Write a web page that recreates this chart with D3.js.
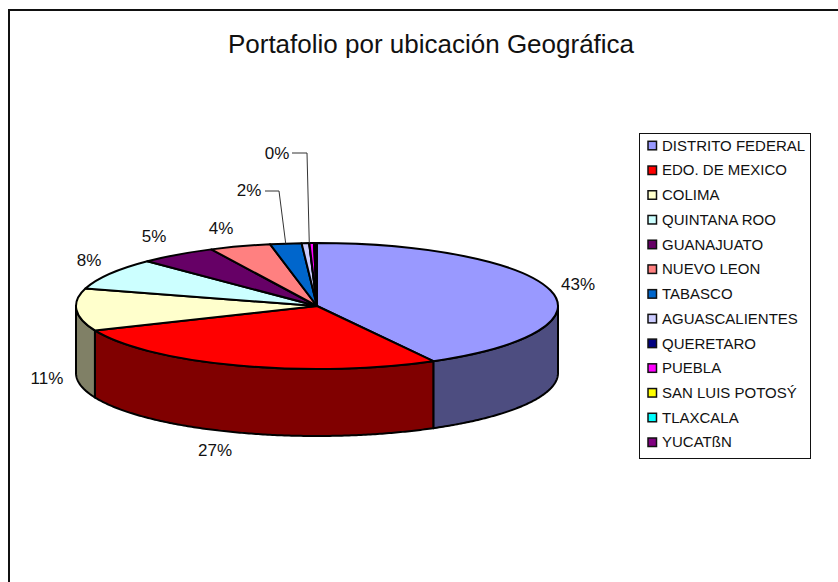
<!DOCTYPE html>
<html>
<head>
<meta charset="utf-8">
<script src="https://cdn.jsdelivr.net/npm/d3@7"></script>
<style>
  html, body { margin: 0; padding: 0; background: #fff; overflow: hidden; }
  svg { display: block; }
  text { font-family: "Liberation Sans", Arial, sans-serif; fill: #111; }
</style>
</head>
<body>
<div id="chart"></div>
<script>
var titleText = "Portafolio por ubicación Geográfica";
var categories = ["DISTRITO FEDERAL", "EDO. DE MEXICO", "COLIMA", "QUINTANA ROO", "GUANAJUATO", "NUEVO LEON", "TABASCO", "AGUASCALIENTES", "QUERETARO", "PUEBLA", "SAN LUIS POTOSÝ", "TLAXCALA", "YUCATßN"];
// slice sizes as measured on the drawn pie, the printed labels are kept apart
var shares = [41.95, 26.65, 10.8, 8.1, 5.2, 4.1, 2.1, 0.5, 0.02, 0.3, 0.05, 0.12, 0.03];
var pctLabels = ["43%", "27%", "11%", "8%", "5%", "4%", "2%", "0%"];
var colors = ["#9999ff", "#ff0000", "#ffffcc", "#ccffff", "#660066", "#ff8080", "#0066cc", "#ccccff", "#000080", "#ff00ff", "#ffff00", "#00ffff", "#800080"];

var width = 838, height = 582;
var cx = 317, cy = 306, rx = 241, ry = 63, depth = 67;

var svg = d3.select("#chart").append("svg")
    .attr("width", width)
    .attr("height", height);

// chart frame, runs off the right and bottom of the picture
svg.append("rect")
    .attr("x", 9)
    .attr("y", 10)
    .attr("width", 900)
    .attr("height", 700)
    .attr("fill", "#fff")
    .attr("stroke", "#111")
    .attr("stroke-width", 2);

svg.append("text")
    .attr("x", 431)
    .attr("y", 53)
    .attr("text-anchor", "middle")
    .attr("font-size", 26)
    .text(titleText);

var pie = d3.pie().sort(null).value(function(d) { return d; });
var slices = pie(shares);

function px(a) { return cx + rx * Math.sin(a); }
function py(a) { return cy - ry * Math.cos(a); }

// side wall of a slice, only the part facing the viewer
var sideSlices = slices.filter(function(d) {
    return d.endAngle > Math.PI / 2 && d.startAngle < 3 * Math.PI / 2;
});

svg.selectAll(".side")
    .data(sideSlices)
    .enter().append("path")
    .attr("class", "side")
    .attr("fill", function(d) {
        return d3.interpolateRgb(colors[d.index], "#000")(0.5);
    })
    .attr("stroke", "#000")
    .attr("stroke-width", 2)
    .attr("stroke-linejoin", "round")
    .attr("d", function(d) {
        var a0 = Math.max(d.startAngle, Math.PI / 2);
        var a1 = Math.min(d.endAngle, 3 * Math.PI / 2);
        var angles = d3.range(a0, a1, 0.01).concat([a1]);
        var top = angles.map(function(a) { return [px(a), py(a)]; });
        var bottom = angles.slice().reverse().map(function(a) { return [px(a), py(a) + depth]; });
        return d3.line()(top.concat(bottom)) + "Z";
    });

var arc = d3.arc().innerRadius(0).outerRadius(rx);

svg.selectAll(".slice")
    .data(slices)
    .enter().append("path")
    .attr("class", "slice")
    .attr("transform", "translate(" + cx + "," + cy + ") scale(1," + (ry / rx) + ")")
    .attr("fill", function(d) { return colors[d.index]; })
    .attr("stroke", "#000")
    .attr("stroke-width", 2)
    .attr("stroke-linejoin", "round")
    .attr("vector-effect", "non-scaling-stroke")
    .attr("d", arc);

// percent labels, placed by hand next to their slice
var labelPos = [[578, 290], [215, 456], [47, 384], [89, 266], [154, 242], [221, 234], [249, 196], [277, 159]];

svg.selectAll(".pct")
    .data(pctLabels)
    .enter().append("text")
    .attr("class", "pct")
    .attr("x", function(d, i) { return labelPos[i][0]; })
    .attr("y", function(d, i) { return labelPos[i][1]; })
    .attr("text-anchor", "middle")
    .attr("font-size", 17)
    .text(function(d) { return d; });

// leader lines for the two small labels, they end on the rim of their slice
function rimPoint(d) {
    var a = (d.startAngle + d.endAngle) / 2;
    return [px(a), py(a)];
}
var leaders = [
    [[265, 191], [279, 191], rimPoint(slices[6])],
    [[292, 153], [307, 153], rimPoint(slices[8])]
];

svg.selectAll(".leader")
    .data(leaders)
    .enter().append("path")
    .attr("class", "leader")
    .attr("fill", "none")
    .attr("stroke", "#333")
    .attr("stroke-width", 1)
    .attr("d", d3.line());

// legend
var legendX = 640, legendY = 133, legendW = 171, legendH = 325;

svg.append("rect")
    .attr("x", legendX - 0.5)
    .attr("y", legendY + 0.5)
    .attr("width", legendW)
    .attr("height", legendH)
    .attr("fill", "#fff")
    .attr("stroke", "#111")
    .attr("stroke-width", 1);

var rowY = d3.scalePoint()
    .domain(categories)
    .range([145.3, 442]);

var rows = svg.selectAll(".legend-row")
    .data(categories)
    .enter().append("g")
    .attr("class", "legend-row")
    .attr("transform", function(d) { return "translate(" + legendX + "," + rowY(d) + ")"; });

rows.append("rect")
    .attr("x", 8)
    .attr("y", -4)
    .attr("width", 8.5)
    .attr("height", 8.5)
    .attr("fill", function(d, i) { return colors[i]; })
    .attr("stroke", "#111")
    .attr("stroke-width", 1.5);

rows.append("text")
    .attr("x", 22)
    .attr("y", 5.4)
    .attr("font-size", 15)
    .text(function(d) { return d; });
</script>
</body>
</html>
